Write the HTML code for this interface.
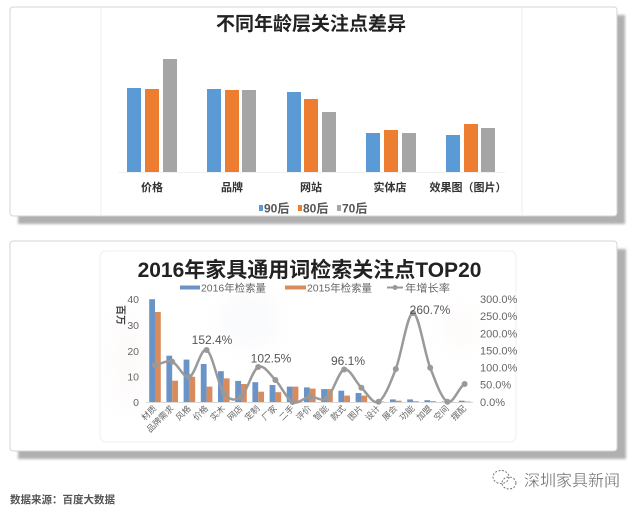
<!DOCTYPE html>
<html><head><meta charset="utf-8"><style>
html,body{margin:0;padding:0;background:#fff;}
svg{display:block;font-family:"Liberation Sans","Noto Sans CJK SC",sans-serif;}
</style></head><body>
<svg width="640" height="507" viewBox="0 0 640 507" xmlns="http://www.w3.org/2000/svg">
<defs>
<filter id="bl" x="-5%" y="-5%" width="110%" height="110%"><feGaussianBlur stdDeviation="1.2"/></filter>
<filter id="bl3" x="-50%" y="-50%" width="200%" height="200%"><feGaussianBlur stdDeviation="10"/></filter>
</defs>
<rect width="640" height="507" fill="#fff"/>

<!-- TOP CARD -->
<rect x="18" y="15" width="607" height="209" fill="#b0b0b0" filter="url(#bl)"/>
<rect x="10" y="7" width="607" height="209" rx="3" fill="#fff" stroke="#d4d4d4" stroke-width="1"/>
<line x1="101" y1="8" x2="101" y2="215" stroke="#ececec" stroke-width="1"/>
<line x1="522" y1="8" x2="522" y2="215" stroke="#ececec" stroke-width="1"/>

<text x="311" y="30" text-anchor="middle" font-size="19" font-weight="bold" fill="#222">不同年龄层关注点差异</text>

<g>
<rect x="127" y="88" width="14" height="84" fill="#5B9BD5"/>
<rect x="145" y="89" width="14" height="83" fill="#ED7D31"/>
<rect x="163" y="59" width="14" height="113" fill="#A5A5A5"/>
<rect x="207" y="89" width="14" height="83" fill="#5B9BD5"/>
<rect x="225" y="90" width="14" height="82" fill="#ED7D31"/>
<rect x="242" y="90" width="14" height="82" fill="#A5A5A5"/>
<rect x="287" y="92" width="14" height="80" fill="#5B9BD5"/>
<rect x="304" y="99" width="14" height="73" fill="#ED7D31"/>
<rect x="322" y="112" width="14" height="60" fill="#A5A5A5"/>
<rect x="366" y="133" width="14" height="39" fill="#5B9BD5"/>
<rect x="384" y="130" width="14" height="42" fill="#ED7D31"/>
<rect x="402" y="133" width="14" height="39" fill="#A5A5A5"/>
<rect x="446" y="135" width="14" height="37" fill="#5B9BD5"/>
<rect x="464" y="124" width="14" height="48" fill="#ED7D31"/>
<rect x="481" y="128" width="14" height="44" fill="#A5A5A5"/>
</g>
<line x1="118" y1="172.5" x2="505" y2="172.5" stroke="#f0f0f0" stroke-width="1"/>
<g font-size="11" font-weight="bold" fill="#333" text-anchor="middle">
<text x="152" y="191">价格</text>
<text x="232" y="191">品牌</text>
<text x="311" y="191">网站</text>
<text x="390" y="191">实体店</text>
<text x="468" y="191">效果图（图片）</text>
</g>
<g font-size="12" font-weight="bold" fill="#555">
<rect x="259" y="205" width="4" height="6" fill="#5B9BD5"/><text x="264" y="212.5">90后</text>
<rect x="298" y="205" width="4" height="6" fill="#ED7D31"/><text x="303" y="212.5">80后</text>
<rect x="337" y="205" width="4" height="6" fill="#A5A5A5"/><text x="342" y="212.5">70后</text>
</g>

<!-- BOTTOM CARD -->
<rect x="18" y="249" width="608" height="210" fill="#b0b0b0" filter="url(#bl)"/>
<rect x="10" y="241" width="607" height="210" rx="3" fill="#fff" stroke="#d4d4d4" stroke-width="1"/>
<rect x="100" y="251" width="416" height="191" rx="6" fill="#fff" stroke="#efefef" stroke-width="1"/>
<!-- faint background blobs -->
<ellipse cx="128" cy="360" rx="18" ry="50" fill="#f9dede" opacity="0.15" filter="url(#bl3)"/>
<ellipse cx="462" cy="330" rx="20" ry="18" fill="#f6d6c6" opacity="0.1" filter="url(#bl3)"/>
<ellipse cx="250" cy="320" rx="30" ry="30" fill="#eef0f6" opacity="0.3" filter="url(#bl3)"/>

<text x="309.5" y="277" text-anchor="middle" font-size="21" font-weight="bold" fill="#222">2016年家具通用词检索关注点TOP20</text>

<g font-size="10.5" fill="#666">
<rect x="180" y="285.5" width="20" height="4" fill="#6a93c6"/>
<text x="201" y="291.5" textLength="65" lengthAdjust="spacingAndGlyphs">2016年检索量</text>
<rect x="285" y="285.5" width="21" height="4" fill="#d98b5c"/>
<text x="307" y="291.5" textLength="65" lengthAdjust="spacingAndGlyphs">2015年检索量</text>
<line x1="387" y1="287.5" x2="403" y2="287.5" stroke="#999" stroke-width="2"/>
<circle cx="395" cy="287.5" r="2.5" fill="#999"/>
<text x="405" y="291.5" textLength="45" lengthAdjust="spacingAndGlyphs">年增长率</text>
</g>

<text x="117" y="315" font-size="10" font-weight="bold" fill="#444" text-anchor="middle" transform="rotate(90 117 315)">百万</text>

<g font-size="10.5" fill="#666" text-anchor="end">
<text x="139" y="303">40</text>
<text x="139" y="329">30</text>
<text x="139" y="355">20</text>
<text x="139" y="380.5">10</text>
<text x="139" y="406">0</text>
</g>
<g font-size="11" fill="#666">
<text x="480" y="303">300.0%</text>
<text x="480" y="320">250.0%</text>
<text x="480" y="337.5">200.0%</text>
<text x="480" y="354.5">150.0%</text>
<text x="480" y="371.5">100.0%</text>
<text x="480" y="388.5">50.0%</text>
<text x="480" y="406">0.0%</text>
</g>

<line x1="146" y1="402.5" x2="473" y2="402.5" stroke="#d9d9d9" stroke-width="1"/>

<g fill="#6a93c6">
<rect x="149.2" y="299.2" width="5.8" height="102.8"/>
<rect x="166.4" y="355.7" width="5.8" height="46.3"/>
<rect x="183.6" y="359.6" width="5.8" height="42.4"/>
<rect x="200.8" y="364" width="5.8" height="38"/>
<rect x="218" y="371.2" width="5.8" height="30.8"/>
<rect x="235.2" y="380.9" width="5.8" height="21.1"/>
<rect x="252.4" y="382.2" width="5.8" height="19.8"/>
<rect x="269.6" y="385" width="5.8" height="17"/>
<rect x="286.8" y="386.6" width="5.8" height="15.4"/>
<rect x="304" y="387.4" width="5.8" height="14.6"/>
<rect x="321.2" y="389.1" width="5.8" height="12.9"/>
<rect x="338.4" y="390.7" width="5.8" height="11.3"/>
<rect x="355.6" y="393" width="5.8" height="9"/>
<rect x="372.8" y="401.2" width="5.8" height="0.8"/>
<rect x="390" y="399.4" width="5.8" height="2.6"/>
<rect x="407.2" y="399.4" width="5.8" height="2.6"/>
<rect x="424.4" y="400.2" width="5.8" height="1.8"/>
<rect x="441.6" y="401.5" width="5.8" height="0.5"/>
<rect x="458.8" y="400.7" width="5.8" height="1.3"/>
</g>
<g fill="#d98b5c">
<rect x="155" y="312" width="5.8" height="90"/>
<rect x="172.2" y="380.7" width="5.8" height="21.3"/>
<rect x="189.4" y="376.8" width="5.8" height="25.2"/>
<rect x="206.6" y="386.6" width="5.8" height="15.4"/>
<rect x="223.8" y="378.4" width="5.8" height="23.6"/>
<rect x="241" y="384" width="5.8" height="18"/>
<rect x="258.2" y="391.7" width="5.8" height="10.3"/>
<rect x="275.4" y="392.2" width="5.8" height="9.8"/>
<rect x="292.6" y="386.6" width="5.8" height="15.4"/>
<rect x="309.8" y="388.6" width="5.8" height="13.4"/>
<rect x="327" y="389.1" width="5.8" height="12.9"/>
<rect x="344.2" y="395.6" width="5.8" height="6.4"/>
<rect x="361.4" y="395.6" width="5.8" height="6.4"/>
<rect x="378.6" y="401.5" width="5.8" height="0.5"/>
<rect x="395.8" y="400.7" width="5.8" height="1.3"/>
<rect x="413" y="401.2" width="5.8" height="0.8"/>
<rect x="430.2" y="401.2" width="5.8" height="0.8"/>
<rect x="447.4" y="401.7" width="5.8" height="0.3"/>
<rect x="464.6" y="401.5" width="5.8" height="0.5"/>
</g>

<path d="M155,365 C160.73,364.45 166.47,359.7 172.2,361.7 C177.93,363.7 183.67,378.95 189.4,377 C195.13,375.05 200.87,347.33 206.6,350 C212.33,352.67 218.07,385.22 223.8,393 C229.53,400.78 235.27,401.03 241,396.7 C246.73,392.37 252.47,369.78 258.2,367 C263.93,364.22 269.67,374.17 275.4,380 C281.13,385.83 286.87,399.22 292.6,402 C298.330,404.78 304.07,397.37 309.8,396.7 C315.53,396.03 321.27,402.53 327,398 C332.73,393.47 338.47,371.22 344.2,369.5 C349.93,367.78 355.67,382.33 361.4,387.7 C367.13,393.07 372.87,404.82 378.6,401.7 C384.33,398.58 390.07,383.78 395.8,369 C401.53,354.22 407.27,313.22 413,313 C418.73,312.78 424.47,352.92 430.2,367.7 C435.93,382.48 441.67,398.98 447.4,401.7 C453.13,404.42 458.87,386.95 464.6,384" fill="none" stroke="#9a9a9a" stroke-width="2.5"/>
<g fill="#999">
<circle cx="155" cy="365" r="3"/><circle cx="172.2" cy="361.7" r="3"/><circle cx="189.4" cy="377" r="3"/>
<circle cx="206.6" cy="350" r="3"/><circle cx="223.8" cy="393" r="3"/><circle cx="241" cy="396.7" r="3"/>
<circle cx="258.2" cy="367" r="3"/><circle cx="275.4" cy="380" r="3"/><circle cx="292.6" cy="402" r="3"/>
<circle cx="309.8" cy="396.7" r="3"/><circle cx="327" cy="398" r="3"/><circle cx="344.2" cy="369.5" r="3"/>
<circle cx="361.4" cy="387.7" r="3"/><circle cx="378.6" cy="401.7" r="3"/><circle cx="395.8" cy="369" r="3"/>
<circle cx="413" cy="313" r="3"/><circle cx="430.2" cy="367.7" r="3"/><circle cx="447.4" cy="401.7" r="3"/>
<circle cx="464.6" cy="384" r="3"/>
</g>

<g font-size="12" fill="#555" text-anchor="middle">
<text x="212" y="344">152.4%</text>
<text x="271" y="362.5">102.5%</text>
<text x="348" y="365">96.1%</text>
<text x="430" y="314">260.7%</text>
</g>

<g font-size="8.5" fill="#666" text-anchor="end">
<text transform="translate(157,409) rotate(-45)">材质</text>
<text transform="translate(174.2,409) rotate(-45)">品牌需求</text>
<text transform="translate(191.4,409) rotate(-45)">风格</text>
<text transform="translate(208.6,409) rotate(-45)">价格</text>
<text transform="translate(225.8,409) rotate(-45)">实木</text>
<text transform="translate(243,409) rotate(-45)">网店</text>
<text transform="translate(260.2,409) rotate(-45)">定制</text>
<text transform="translate(277.4,409) rotate(-45)">厂家</text>
<text transform="translate(294.6,409) rotate(-45)">二手</text>
<text transform="translate(311.8,409) rotate(-45)">评价</text>
<text transform="translate(329,409) rotate(-45)">智能</text>
<text transform="translate(346.2,409) rotate(-45)">款式</text>
<text transform="translate(363.4,409) rotate(-45)">图片</text>
<text transform="translate(380.6,409) rotate(-45)">设计</text>
<text transform="translate(397.8,409) rotate(-45)">展会</text>
<text transform="translate(415,409) rotate(-45)">功能</text>
<text transform="translate(432.2,409) rotate(-45)">加盟</text>
<text transform="translate(449.4,409) rotate(-45)">空间</text>
<text transform="translate(466.6,409) rotate(-45)">摆配</text>
</g>

<!-- FOOTER -->
<text x="10" y="503" font-size="10.5" font-weight="bold" fill="#555">数据来源：百度大数据</text>

<g fill="none" stroke="#777" stroke-width="1" stroke-dasharray="2 1.5">
<ellipse cx="501" cy="477" rx="8" ry="6.5"/>
<ellipse cx="509" cy="483" rx="7" ry="6"/>
</g>
<text x="524" y="486" font-size="16" fill="#6a6a6a" stroke="#fff" stroke-width="0.3">深圳家具新闻</text>
</svg>
</body></html>
